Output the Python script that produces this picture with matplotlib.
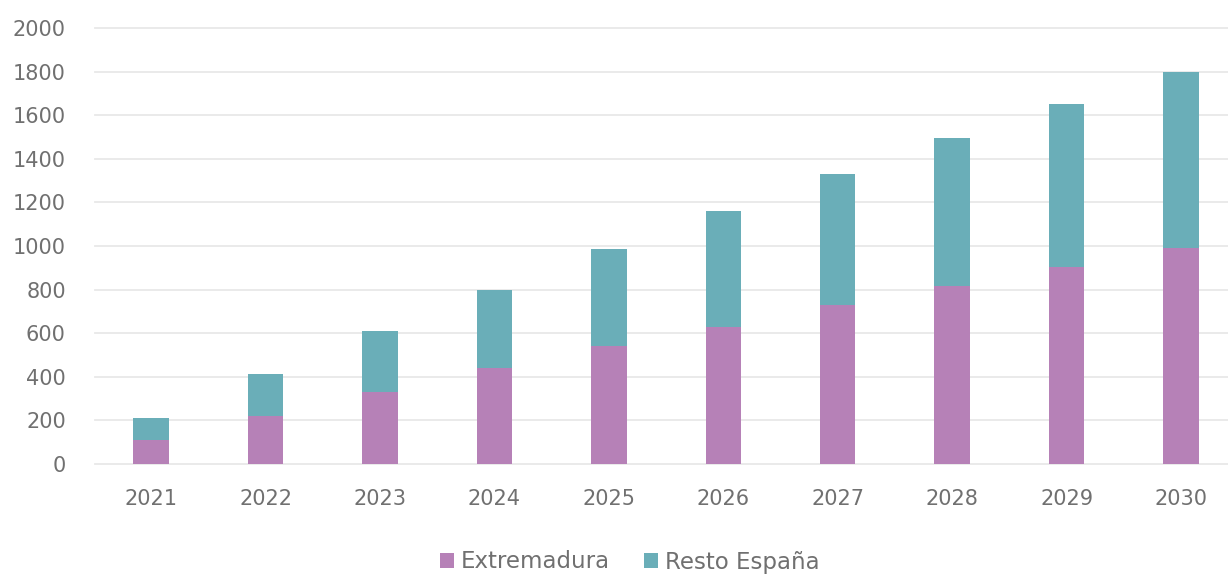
import matplotlib
matplotlib.use("Agg")
import matplotlib.pyplot as plt
import numpy as np

years = ["2021", "2022", "2023", "2024", "2025", "2026", "2027", "2028", "2029", "2030"]
extremadura = [110, 220, 330, 440, 540, 630, 730, 815, 905, 990]
resto_espana = [100, 195, 280, 360, 445, 530, 600, 680, 745, 810]
y_ticks = [0, 200, 400, 600, 800, 1000, 1200, 1400, 1600, 1800, 2000]

plt.rcParams['font.family'] = ['DejaVu Sans']
text_color = "#707070"
c_ext = "#b681b7"
c_rest = "#6aaeb8"

fig = plt.figure(figsize=(12.28, 5.74), dpi=100)
px_per_unit = 436 / 2000
ymax = 2020
ax = fig.add_axes([95/1228, 110/574, (1228-95)/1228, ymax * px_per_unit / 574])

x = np.arange(len(years))
w = 0.31
ax.bar(x, extremadura, width=w, color=c_ext, label="Extremadura", zorder=3)
ax.bar(x, resto_espana, width=w, bottom=extremadura, color=c_rest, label="Resto España", zorder=3)

ax.set_xlim(-0.49, 9.41)
ax.set_ylim(0, ymax)
ax.set_yticks(y_ticks)
ax.set_yticklabels([str(t) for t in y_ticks])
ax.set_xticks(x)
ax.set_xticklabels(years)
ax.tick_params(axis='both', length=0, colors=text_color, labelsize=15)
ax.tick_params(axis='y', pad=21)
ax.tick_params(axis='x', pad=18)
ax.grid(axis='y', color="#e8e8e8", linewidth=1.3, zorder=0)
for gl in ax.get_ygridlines():
    gl.set_clip_on(False)
for s in ax.spines.values():
    s.set_visible(False)

leg = fig.legend(loc='center', bbox_to_anchor=(630/1228, 1 - 562/574), ncol=2, frameon=False,
                 fontsize=16.5, handlelength=0.6, handleheight=0.6, handletextpad=0.3,
                 columnspacing=1.5, labelcolor=text_color)

fig.savefig("out.png", dpi=100, facecolor="white")
